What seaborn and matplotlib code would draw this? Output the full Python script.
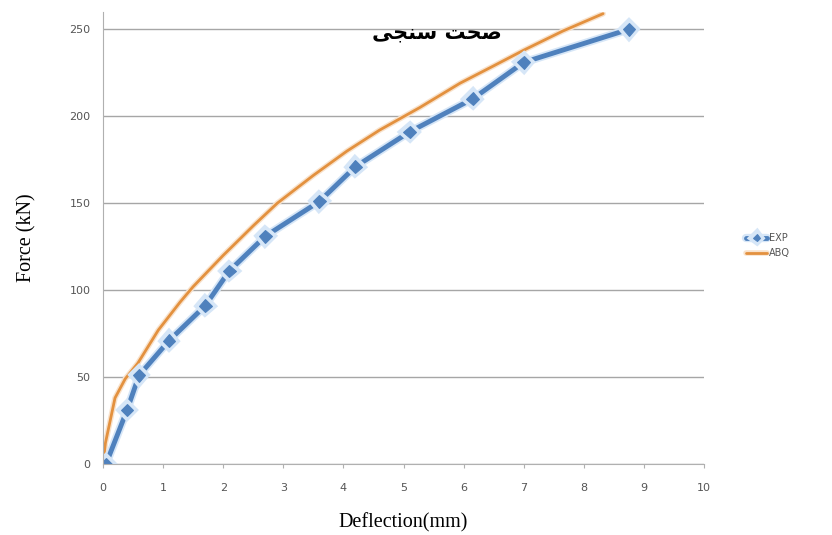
import matplotlib
matplotlib.use("Agg")
import matplotlib.pyplot as plt
import matplotlib.patheffects as pe
import seaborn as sns
import pandas as pd

exp_x = [0.05, 0.4, 0.6, 1.1, 1.7, 2.1, 2.7, 3.6, 4.2, 5.1, 6.15, 7.0, 8.75]
exp_y = [0, 31, 51, 71, 91, 111, 131, 151, 171, 191, 210, 231, 250]
abq_x = [0.0, 0.04, 0.12, 0.2, 0.37, 0.58, 0.92, 1.28, 1.5, 2.0, 2.5, 2.9, 3.5,
         4.06, 4.6, 5.27, 5.94, 6.5, 7.0, 7.65, 8.32]
abq_y = [0, 12, 25, 38, 49, 58, 77, 93, 102, 120, 137, 150, 166,
         180, 192, 205, 219, 229, 238, 249, 259]
x_ticks = list(range(0, 11))
y_ticks = [0, 50, 100, 150, 200, 250]
title = "\uFBFD\uFEA0\uFEE8\uFEB3 \uFE96\uFEA4\uFEBB"  # صحت سنجی (shaped, visual order)

sns.set_style("white")
fig = plt.figure(figsize=(8.32, 5.35), dpi=100)
ax = fig.add_axes([0.1238, 0.1327, 0.7224, 0.845])

exp_df = pd.DataFrame({"x": exp_x, "y": exp_y})
abq_df = pd.DataFrame({"x": abq_x, "y": abq_y})

sns.lineplot(data=abq_df, x="x", y="y", sort=False, ax=ax, color="#e3913f", lw=2,
             label="ABQ", path_effects=[pe.Stroke(linewidth=4, foreground="#f8e2cc"), pe.Normal()])
sns.lineplot(data=exp_df, x="x", y="y", sort=False, ax=ax, color="#4f81bd", lw=3.5,
             marker="D", markersize=6.5, markeredgecolor="#4f81bd", label="EXP",
             path_effects=[pe.Stroke(linewidth=6, foreground="#d6e6f7"), pe.Normal()])

ax.set_xlim(0, 10)
ax.set_ylim(0, 260)
ax.set_xticks(x_ticks)
ax.set_yticks(y_ticks)
ax.yaxis.grid(True, color="#a6a6a6", lw=1)
ax.xaxis.grid(False)
for s in ["top", "right"]:
    ax.spines[s].set_visible(False)
ax.spines["left"].set_color("#b0b0b0")
ax.spines["bottom"].set_color("#b0b0b0")
ax.tick_params(axis="x", direction="out", length=3, color="#b0b0b0", labelsize=8,
               labelcolor="#555555", bottom=True, pad=11)
ax.tick_params(axis="y", length=0, labelsize=8, labelcolor="#555555", pad=9)

ax.set_xlabel("Deflection(mm)", family="Liberation Serif", fontsize=14.5, color="black", labelpad=14)
ax.set_ylabel("Force (kN)", family="Liberation Serif", fontsize=14.5, color="black", labelpad=24)

ax.text(0.556, 0.955, title, transform=ax.transAxes, ha="center", va="center",
        fontsize=15, fontweight="bold", family=["DejaVu Sans"], color="black")

h, l = ax.get_legend_handles_labels()
order = [1, 0]
leg = ax.legend([h[i] for i in order], [l[i] for i in order], loc="center left",
                bbox_to_anchor=(1.055, 0.483), frameon=False, fontsize=7, labelcolor="#555555",
                handlelength=2.2, labelspacing=0.55, handletextpad=0.15, markerscale=0.6)

fig.savefig("out.png", dpi=100)
